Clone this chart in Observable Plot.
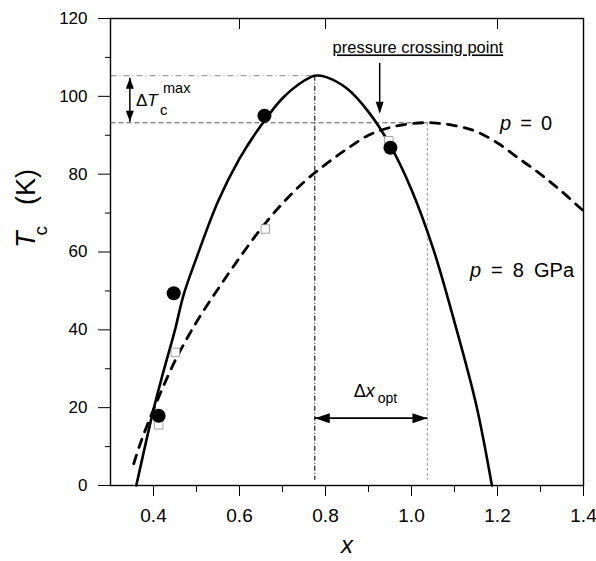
<!DOCTYPE html>
<html><head><meta charset="utf-8">
<script src="https://cdn.jsdelivr.net/npm/d3@7"></script>
<script src="https://cdn.jsdelivr.net/npm/@observablehq/plot@0.6"></script>
<style>body{margin:0;background:#fff} svg{display:block}</style>
</head><body><div id="chart"></div>
<script>
// p = 8 GPa (solid curve)
const p8X  = [0.36, 0.40, 0.42, 0.45, 0.47, 0.50, 0.55, 0.60, 0.65, 0.70, 0.75, 0.775, 0.80, 0.85, 0.90, 0.95, 1.00, 1.05, 1.10, 1.15, 1.187];
const p8Tc = [0,    19.5, 28,   40,   49,   58.5, 73,   84,   92.5, 99.5, 104,  105.3, 105,  102,  96,   87.5, 76,   61,   42,   21,   0];
// p = 0 (dashed curve)
const p0X  = [0.354, 0.37, 0.40, 0.45, 0.50, 0.55, 0.60, 0.65, 0.70, 0.75, 0.80, 0.85, 0.90, 0.95, 1.00, 1.05, 1.10, 1.15, 1.20, 1.25, 1.30, 1.35, 1.40];
const p0Tc = [5.6,   11,   19.5, 32,   42,   50.5, 58.5, 66,   72.5, 78,   82.5, 86.5, 90,   92,   93,   93.2, 92.5, 91,   88,   84,   80,   75.5, 70.5];
// filled circles (8 GPa data)
const dotX  = [0.412, 0.447, 0.658, 0.951];
const dotTc = [17.9,  49.4,  95.0,  86.8];
// open squares (ambient data)
const sqX  = [0.412, 0.451, 0.660, 0.947];
const sqTc = [15.6,  34.2,  65.9,  88.6];
// ticks
const xTicks = [0.4, 0.6, 0.8, 1.0, 1.2, 1.4];
const xMinor = [0.5, 0.7, 0.9, 1.1, 1.3];
const topTicks = [0.6, 0.8, 1.2];
const yTicks = [0, 20, 40, 60, 80, 100, 120];
const yMinor = [10, 30, 50, 70, 90, 110];
// annotation values
const peakX = 0.775, peakTc = 105.3;      // max Tc at 8 GPa
const crossTc = 93.2, optX0 = 1.037;      // max Tc at p = 0 and its x
const crossX = 0.926;                     // pressure crossing point
const dxArrowTc = 17.3, dTArrowX = 0.345;

const p8 = p8X.map((x, i) => ({x, tc: p8Tc[i]}));
const p0 = p0X.map((x, i) => ({x, tc: p0Tc[i]}));
const dots = dotX.map((x, i) => ({x, tc: dotTc[i]}));
const sqs = sqX.map((x, i) => ({x, tc: sqTc[i]}));

const head = (dir, len, hw) => ({draw(ctx) {
  ctx.moveTo(0, 0);
  if (dir === "right") { ctx.lineTo(-len, -hw); ctx.lineTo(-len, hw); }
  if (dir === "left")  { ctx.lineTo(len, -hw);  ctx.lineTo(len, hw); }
  if (dir === "down")  { ctx.lineTo(-hw, -len); ctx.lineTo(hw, -len); }
  if (dir === "up")    { ctx.lineTo(-hw, len);  ctx.lineTo(hw, len); }
  ctx.closePath();
}});

const seg = (x1, y1, x2, y2) => [{x1, y1, x2, y2}];

const chart = Plot.plot({
  width: 596, height: 561,
  marginLeft: 110, marginRight: 13, marginTop: 18, marginBottom: 76,
  style: {fontFamily: "Liberation Sans, Arial, sans-serif", fontSize: "17px", color: "#000", background: "#fff"},
  x: {domain: [0.3, 1.4]},
  y: {domain: [0, 120]},
  marks: [
    Plot.axisX(xTicks, {tickSize: 11, tickPadding: 12, fontSize: 19, tickFormat: d3.format(".1f"), label: null}),
    Plot.axisX(xMinor, {tickSize: 7, tickFormat: () => "", label: null}),
    Plot.axisY(yTicks, {tickSize: 12, tickPadding: 11, fontSize: 17, label: null}),
    Plot.axisY(yMinor, {tickSize: 5, tickFormat: () => "", label: null}),
    Plot.tickX(topTicks, {x: d => d, insetBottom: 456, stroke: "#000"}),
    // guide lines
    Plot.link(seg(0.3, peakTc, peakX, peakTc), {x1: "x1", y1: "y1", x2: "x2", y2: "y2", stroke: "#888", strokeWidth: 1, strokeDasharray: "6,3,1,3"}),
    Plot.link(seg(0.3, crossTc, optX0, crossTc), {x1: "x1", y1: "y1", x2: "x2", y2: "y2", stroke: "#555", strokeWidth: 1, strokeDasharray: "5,3"}),
    Plot.link(seg(peakX, peakTc, peakX, 1.5), {x1: "x1", y1: "y1", x2: "x2", y2: "y2", stroke: "#222", strokeWidth: 1.2, strokeDasharray: "5,2,1,2"}),
    Plot.link(seg(optX0, crossTc, optX0, 1.5), {x1: "x1", y1: "y1", x2: "x2", y2: "y2", stroke: "#999", strokeWidth: 1, strokeDasharray: "3,2"}),
    // curves
    Plot.line(p0, {x: "x", y: "tc", stroke: "#000", strokeWidth: 2.8, strokeDasharray: "9,8", curve: "catmull-rom"}),
    Plot.line(p8, {x: "x", y: "tc", stroke: "#000", strokeWidth: 2.6, curve: "catmull-rom"}),
    // data
    Plot.dot(sqs, {x: "x", y: "tc", symbol: "square", r: 4.8, fill: "#fff", stroke: "#999", strokeWidth: 0.9}),
    Plot.dot(dots, {x: "x", y: "tc", r: 7, fill: "#000"}),
    // Δx_opt arrow
    Plot.link(seg(peakX, dxArrowTc, optX0, dxArrowTc), {x1: "x1", y1: "y1", x2: "x2", y2: "y2", stroke: "#000", strokeWidth: 1.6}),
    Plot.dot([0], {x: () => peakX, y: () => dxArrowTc, symbol: head("left", 15, 5), fill: "#000", stroke: "none"}),
    Plot.dot([0], {x: () => optX0, y: () => dxArrowTc, symbol: head("right", 15, 5), fill: "#000", stroke: "none"}),
    // ΔTc arrow
    Plot.link(seg(dTArrowX, peakTc - 0.5, dTArrowX, crossTc + 0.3), {x1: "x1", y1: "y1", x2: "x2", y2: "y2", stroke: "#000", strokeWidth: 1.5}),
    Plot.dot([0], {x: () => dTArrowX, y: () => peakTc - 0.5, symbol: head("up", 11, 4), fill: "#000", stroke: "none"}),
    Plot.dot([0], {x: () => dTArrowX, y: () => crossTc + 0.3, symbol: head("down", 11, 4), fill: "#000", stroke: "none"}),
    // crossing arrow
    Plot.link(seg(crossX, 108.6, crossX, 96), {x1: "x1", y1: "y1", x2: "x2", y2: "y2", stroke: "#000", strokeWidth: 1.5}),
    Plot.dot([0], {x: () => crossX, y: () => 95.5, symbol: head("down", 12, 4), fill: "#000", stroke: "none"}),
    Plot.frame({stroke: "#000", strokeWidth: 1.4})
  ]
});
document.getElementById("chart").appendChild(chart);

const sx = chart.scale("x"), sy = chart.scale("y");
const X = v => sx.apply(v), Y = v => sy.apply(v);
const g = d3.select(chart).append("g").attr("font-family", "Liberation Sans, Arial, sans-serif")
  .attr("fill", "#000").attr("text-anchor", "start");

// pressure crossing point
g.append("text").attr("x", X(1.016)).attr("y", Y(110.9)).attr("text-anchor", "middle")
  .attr("font-size", 16.5).attr("text-decoration", "underline").text("pressure crossing point");

// ΔTc^max
{
  const ax = X(0.3605), ay = Y(97.3);
  const t = g.append("text").attr("x", ax).attr("y", ay).attr("font-size", 17);
  t.append("tspan").text("Δ");
  t.append("tspan").attr("font-style", "italic").text("T");
  g.append("text").attr("x", ax + 24).attr("y", ay + 9).attr("font-size", 15).text("c");
  g.append("text").attr("x", ax + 27).attr("y", ay - 13).attr("font-size", 14.5).text("max");
}
// Δx_opt
{
  const ax = X(0.867), ay = Y(22.6);
  g.append("text").attr("x", ax).attr("y", ay).attr("font-size", 18)
    .call(t => { t.append("tspan").text("Δ"); t.append("tspan").attr("font-style", "italic").text("x"); });
  g.append("text").attr("x", ax + 24).attr("y", ay + 6).attr("font-size", 14).text("opt");
}
// p = 0
g.append("text").attr("x", X(1.207)).attr("y", Y(91.2)).attr("font-size", 20).attr("word-spacing", 3.5)
  .call(t => { t.append("tspan").attr("font-style", "italic").text("p"); t.append("tspan").text(" = 0"); });
// p = 8 GPa
g.append("text").attr("x", X(1.137)).attr("y", Y(53.4)).attr("font-size", 20).attr("word-spacing", 4.5)
  .call(t => { t.append("tspan").attr("font-style", "italic").text("p"); t.append("tspan").text(" = 8 GPa"); });
// axis labels
g.append("text").attr("x", 347).attr("y", 553).attr("text-anchor", "middle").attr("font-size", 24)
  .attr("font-style", "italic").text("x");
{
  const t = g.append("text").attr("transform", "translate(35,248) rotate(-90)").attr("font-size", 27);
  t.append("tspan").attr("font-style", "italic").text("T");
  t.append("tspan").attr("font-size", 19).attr("dx", -4).attr("dy", 11.5).text("c");
  t.append("tspan").attr("dx", 21).attr("dy", -11.5).text("(K)");
}
</script></body></html>
